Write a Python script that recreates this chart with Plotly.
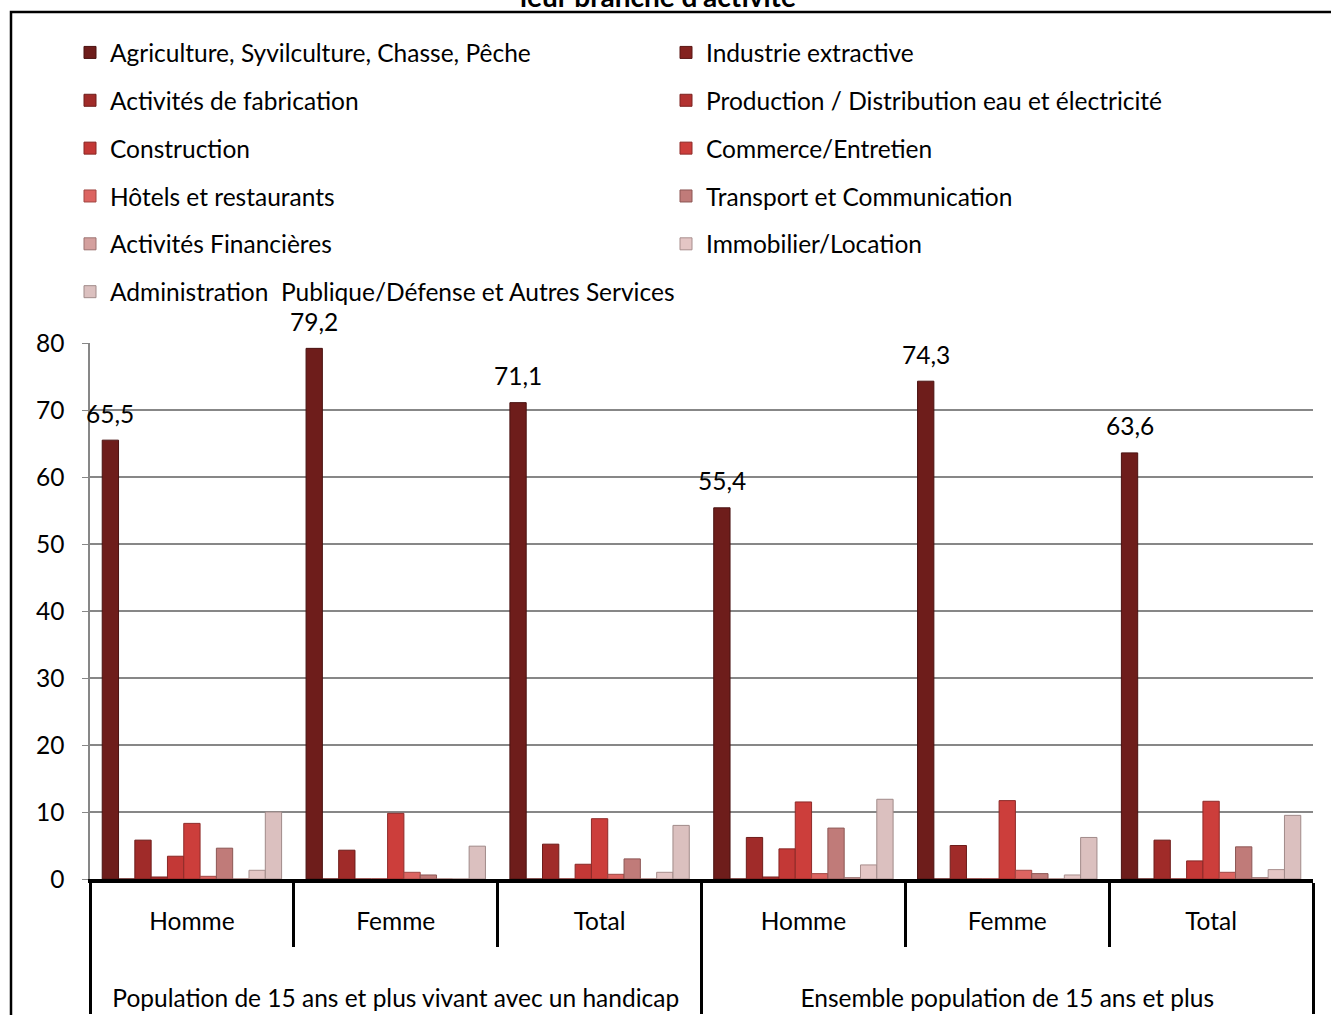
import plotly.graph_objects as go

# ---------------- data ----------------
populations = ["Population de 15 ans et plus vivant avec un handicap"] * 3 + \
              ["Ensemble population de 15 ans et plus"] * 3
sexes = ["Homme", "Femme", "Total", "Homme", "Femme", "Total"]

series_names = [
    "Agriculture, Syvilculture, Chasse, Pêche",
    "Industrie extractive",
    "Activités de fabrication",
    "Production / Distribution eau et électricité",
    "Construction",
    "Commerce/Entretien",
    "Hôtels et restaurants",
    "Transport et Communication",
    "Activités Financières",
    "Immobilier/Location",
    "Administration  Publique/Défense et Autres Services",
]

agriculture = [65.5, 79.2, 71.1, 55.4, 74.3, 63.6]
industrie_extractive = [0.0, 0.0, 0.0, 0.0, 0.0, 0.0]
fabrication = [5.8, 4.3, 5.2, 6.2, 5.0, 5.8]
production_eau_elec = [0.3, 0.0, 0.0, 0.3, 0.0, 0.0]
construction = [3.4, 0.0, 2.2, 4.5, 0.0, 2.7]
commerce = [8.3, 9.8, 9.0, 11.5, 11.7, 11.6]
hotels = [0.4, 1.0, 0.7, 0.8, 1.3, 1.0]
transport = [4.6, 0.6, 3.0, 7.6, 0.8, 4.8]
financieres = [0.0, 0.0, 0.0, 0.2, 0.0, 0.2]
immobilier = [1.3, 0.0, 1.0, 2.1, 0.6, 1.4]
administration = [10.0, 4.9, 8.0, 11.9, 6.2, 9.5]

series_values = [agriculture, industrie_extractive, fabrication, production_eau_elec,
                 construction, commerce, hotels, transport, financieres, immobilier,
                 administration]

y_ticks = [0, 10, 20, 30, 40, 50, 60, 70, 80]
title_text = "leur branche d'activité"

# ---------------- style ----------------
colors = ["#6E1D1B", "#84221F", "#A02B29", "#B23230", "#C33836", "#CC3E3B",
          "#DC6461", "#C07B79", "#D4A09E", "#E4C6C5", "#DBC0BF"]
line_colors = ["#4A1211", "#5A1715", "#6E1D1B", "#7C2220", "#882725", "#8E2B29",
               "#A04643", "#8C5654", "#9C7271", "#A88E8D", "#A08A89"]

FONT = "Lato"
FS = 24.5
BARGAP = 0.12

# outer labels pushed lower (two blank lines above)
outer_labels = ["<br><br>" + p for p in populations]

fig = go.Figure()
left_col = [0, 2, 4, 6, 8, 10]
for i, (name, vals) in enumerate(zip(series_names, series_values)):
    fig.add_trace(go.Bar(
        x=[outer_labels, sexes],
        y=vals,
        name=name,
        marker=dict(color=colors[i], line=dict(color=line_colors[i], width=1)),
        legend="legend" if i in left_col else "legend2",
        legendgroup=f"g{i}",
    ))

# value labels above the first series' bars (category index + in-group offset)
n_series = len(series_names)
slot = (1 - BARGAP) / n_series
first_offset = -(1 - BARGAP) / 2 + slot / 2
for k, v in enumerate(agriculture):
    fig.add_annotation(x=k + first_offset, y=v, xref="x", yref="y",
                       text=f"{v:.1f}".replace(".", ","), showarrow=False,
                       xanchor="center", yanchor="middle", yshift=27,
                       font=dict(size=FS, family=FONT, color="black"))

PL, PR, PT, PB = 90, 1313, 343, 879
W, H = 1331, 1015
pw, ph = PR - PL, PB - PT

def px_x(px):
    return (px - PL) / pw

def px_y(py):
    return (PB - py) / ph

legend_common = dict(xanchor="left", yanchor="top", orientation="v",
                     tracegroupgap=13, traceorder="grouped",
                     font=dict(size=FS, family=FONT), bgcolor="rgba(0,0,0,0)")

fig.update_layout(
    width=W, height=H,
    margin=dict(l=PL, r=W - PR, t=PT, b=H - PB, autoexpand=False),
    paper_bgcolor="white", plot_bgcolor="white",
    font=dict(family=FONT, size=FS, color="black"),
    barmode="group", bargap=BARGAP, bargroupgap=0.0,
    legend=dict(x=px_x(70), y=px_y(30), **legend_common),
    legend2=dict(x=px_x(666), y=px_y(30), **legend_common),
    showlegend=True,
)

fig.add_annotation(text=f"<b>{title_text}</b>", xref="paper", yref="paper",
                   x=px_x(658), y=px_y(15), xanchor="center", yanchor="bottom",
                   showarrow=False, font=dict(size=28, family=FONT, color="black"))

fig.update_yaxes(range=[0, 80], tickvals=y_ticks, showgrid=True, gridcolor="#878787",
                 gridwidth=1.5, showline=True, linecolor="#878787", linewidth=1.5,
                 ticks="outside", ticklen=6, tickcolor="#878787", zeroline=False,
                 ticklabelstandoff=13, tickfont=dict(size=FS, family=FONT))
fig.update_xaxes(range=[-0.5, len(sexes) - 0.5], autorange=False,
                 showline=True, linecolor="black", linewidth=4,
                 ticks="outside", tickson="boundaries", ticklen=64, tickwidth=3,
                 tickcolor="black", showdividers=True, dividercolor="black",
                 dividerwidth=3, ticklabelstandoff=18,
                 tickfont=dict(size=FS, family=FONT))

# outer frame of the chart
fig.add_shape(type="rect", xref="paper", yref="paper",
              x0=px_x(11), x1=px_x(1345), y0=px_y(1030), y1=px_y(12),
              line=dict(color="black", width=2.5), fillcolor="rgba(0,0,0,0)",
              layer="below")

fig.write_html("out.html", config={"displayModeBar": False},
               post_script="document.body.style.margin='0px';")
